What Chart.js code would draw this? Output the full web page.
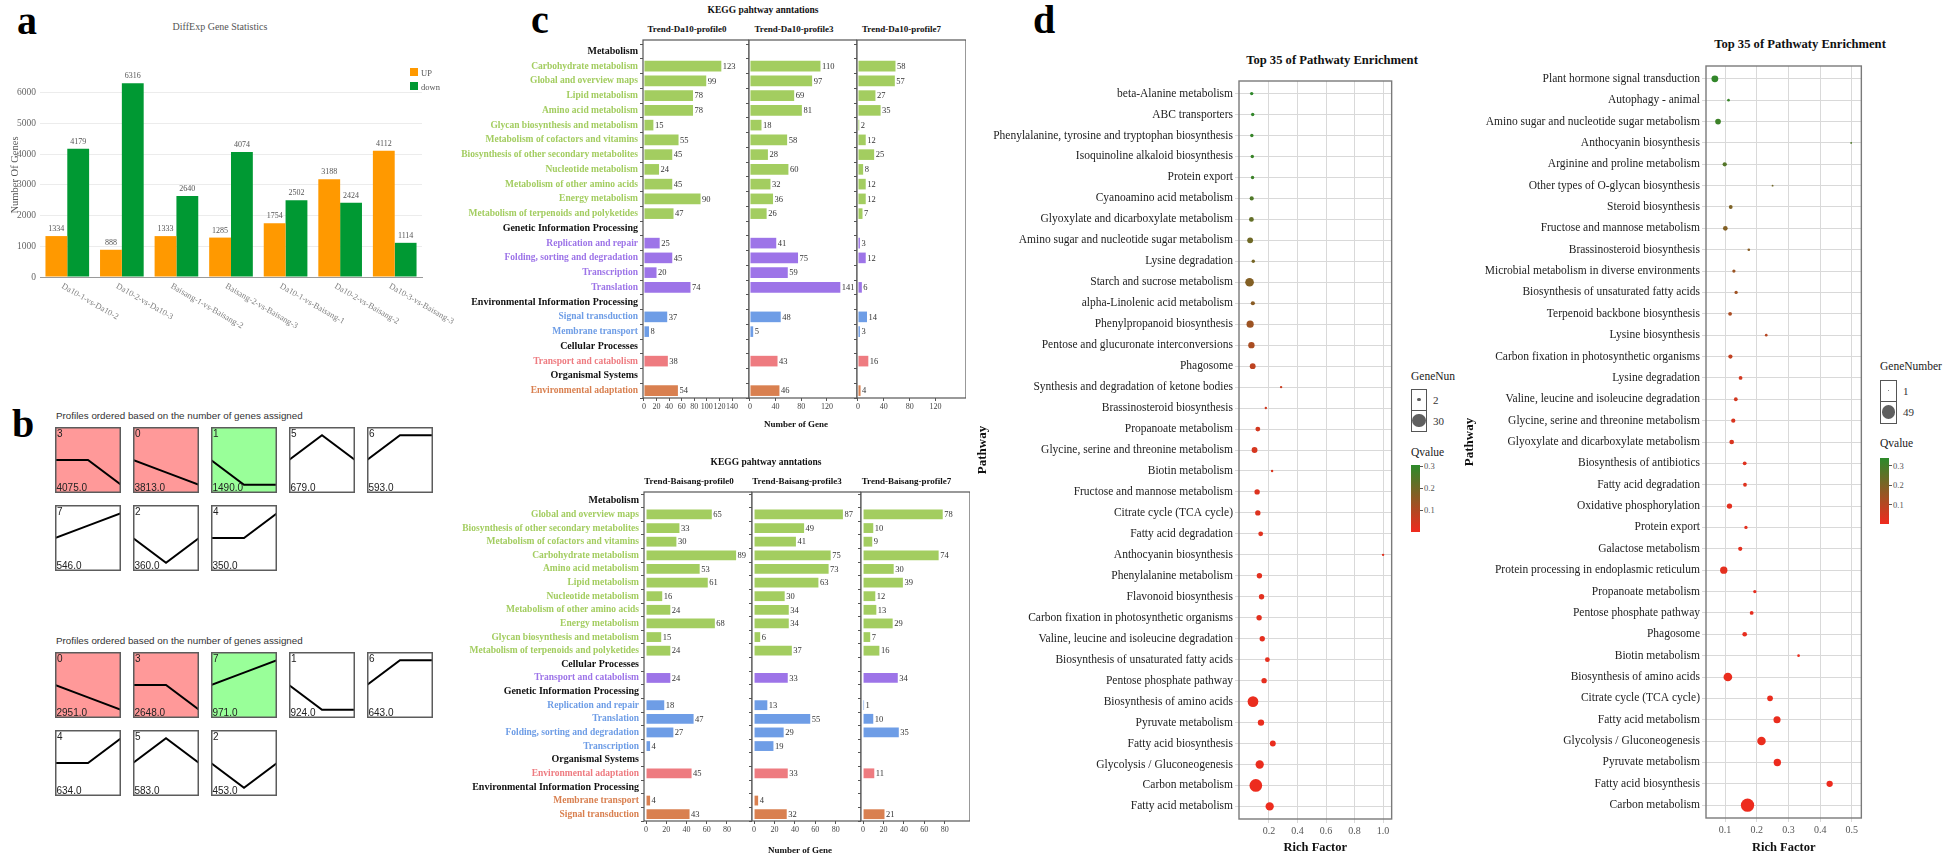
<!DOCTYPE html>
<html>
<head>
<meta charset="utf-8">
<title>DEG statistics, trend profiles, KEGG annotation and enrichment</title>
<script src="https://cdn.jsdelivr.net/npm/chart.js@4/dist/chart.umd.min.js"></script>
<style>
  html, body { margin: 0; padding: 0; background: #fff; }
  #page { position: relative; width: 1946px; height: 861px; overflow: hidden; background: #fff; }
  #page canvas { position: absolute; }
  .txt { position: absolute; white-space: nowrap; }
  .blk { position: absolute; }
  .cell { position: absolute; box-sizing: border-box; border: 1px solid #555; background: #fff; }
  .dot { position: absolute; border-radius: 50%; background: #5f5f5f; }
</style>
</head>
<body>
<div id="page"></div>
<script>
// ---------- panel a : number of DEGs per comparison
var diffCompare = ['Da10-1-vs-Da10-2', 'Da10-2-vs-Da10-3', 'Baisang-1-vs-Baisang-2', 'Baisang-2-vs-Baisang-3',
  'Da10-1-vs-Baisang-1', 'Da10-2-vs-Baisang-2', 'Da10-3-vs-Baisang-3'];
var diffUp = [1334, 888, 1333, 1285, 1754, 3188, 4112];
var diffDown = [4179, 6316, 2640, 4074, 2502, 2424, 1114];
var diffYTicks = [0, 1000, 2000, 3000, 4000, 5000, 6000];

// ---------- panel b : STEM model profiles (3 time points)
var stemProfiles = [[0, -1, -2], [0, -1, -1], [0, -1, 0], [0, 0, -1], [0, 0, 1], [0, 1, 0], [0, 1, 1], [0, 1, 2]];
var da10Order = [3, 0, 1, 5, 6, 7, 2, 4];
var da10Genes = [4075, 3813, 1490, 679, 593, 546, 360, 350];
var da10Tint = ['red', 'red', 'green', null, null, null, null, null];
var baisangOrder = [0, 3, 7, 1, 6, 4, 5, 2];
var baisangGenes = [2951, 2648, 971, 924, 643, 634, 583, 453];
var baisangTint = ['red', 'red', 'green', null, null, null, null, null];

// ---------- panel c : KEGG annotation of trend profiles
var keggTopLabels = ['Metabolism', 'Carbohydrate metabolism', 'Global and overview maps', 'Lipid metabolism',
  'Amino acid metabolism', 'Glycan biosynthesis and metabolism', 'Metabolism of cofactors and vitamins',
  'Biosynthesis of other secondary metabolites', 'Nucleotide metabolism', 'Metabolism of other amino acids',
  'Energy metabolism', 'Metabolism of terpenoids and polyketides', 'Genetic Information Processing',
  'Replication and repair', 'Folding, sorting and degradation', 'Transcription', 'Translation',
  'Environmental Information Processing', 'Signal transduction', 'Membrane transport', 'Cellular Processes',
  'Transport and catabolism', 'Organismal Systems', 'Environmental adaptation'];
var keggTopGroup = [-1, 0, 0, 0, 0, 0, 0, 0, 0, 0, 0, 0, -1, 1, 1, 1, 1, -1, 2, 2, -1, 3, -1, 4];
var da10P0 = [null, 123, 99, 78, 78, 15, 55, 45, 24, 45, 90, 47, null, 25, 45, 20, 74, null, 37, 8, null, 38, null, 54];
var da10P3 = [null, 110, 97, 69, 81, 18, 58, 28, 60, 32, 36, 26, null, 41, 75, 59, 141, null, 48, 5, null, 43, null, 46];
var da10P7 = [null, 58, 57, 27, 35, 2, 12, 25, 8, 12, 12, 7, null, 3, 12, null, 6, null, 14, 3, null, 16, null, 4];
var keggTopXTicks = [0, 20, 40, 60, 80, 100, 120, 140];

var keggBotLabels = ['Metabolism', 'Global and overview maps', 'Biosynthesis of other secondary metabolites',
  'Metabolism of cofactors and vitamins', 'Carbohydrate metabolism', 'Amino acid metabolism', 'Lipid metabolism',
  'Nucleotide metabolism', 'Metabolism of other amino acids', 'Energy metabolism', 'Glycan biosynthesis and metabolism',
  'Metabolism of terpenoids and polyketides', 'Cellular Processes', 'Transport and catabolism',
  'Genetic Information Processing', 'Replication and repair', 'Translation', 'Folding, sorting and degradation',
  'Transcription', 'Organismal Systems', 'Environmental adaptation', 'Environmental Information Processing',
  'Membrane transport', 'Signal transduction'];
var keggBotGroup = [-1, 0, 0, 0, 0, 0, 0, 0, 0, 0, 0, 0, -1, 1, -1, 2, 2, 2, 2, -1, 3, -1, 4, 4];
var baiP0 = [null, 65, 33, 30, 89, 53, 61, 16, 24, 68, 15, 24, null, 24, null, 18, 47, 27, 4, null, 45, null, 4, 43];
var baiP3 = [null, 87, 49, 41, 75, 73, 63, 30, 34, 34, 6, 37, null, 33, null, 13, 55, 29, 19, null, 33, null, 4, 32];
var baiP7 = [null, 78, 10, 9, 74, 30, 39, 12, 13, 29, 7, 16, null, 34, null, 1, 10, 35, null, null, 11, null, null, 21];
var keggBotXTicks = [0, 20, 40, 60, 80];
var keggPalette = ['#a3cd60', '#9d74e8', '#6e9de6', '#ee7b80', '#d98050'];

// ---------- panel d : top 35 enriched pathways
var enrLeftNames = ['beta-Alanine metabolism', 'ABC transporters', 'Phenylalanine, tyrosine and tryptophan biosynthesis',
  'Isoquinoline alkaloid biosynthesis', 'Protein export', 'Cyanoamino acid metabolism',
  'Glyoxylate and dicarboxylate metabolism', 'Amino sugar and nucleotide sugar metabolism', 'Lysine degradation',
  'Starch and sucrose metabolism', 'alpha-Linolenic acid metabolism', 'Phenylpropanoid biosynthesis',
  'Pentose and glucuronate interconversions', 'Phagosome', 'Synthesis and degradation of ketone bodies',
  'Brassinosteroid biosynthesis', 'Propanoate metabolism', 'Glycine, serine and threonine metabolism',
  'Biotin metabolism', 'Fructose and mannose metabolism', 'Citrate cycle (TCA cycle)', 'Fatty acid degradation',
  'Anthocyanin biosynthesis', 'Phenylalanine metabolism', 'Flavonoid biosynthesis',
  'Carbon fixation in photosynthetic organisms', 'Valine, leucine and isoleucine degradation',
  'Biosynthesis of unsaturated fatty acids', 'Pentose phosphate pathway', 'Biosynthesis of amino acids',
  'Pyruvate metabolism', 'Fatty acid biosynthesis', 'Glycolysis / Gluconeogenesis', 'Carbon metabolism',
  'Fatty acid metabolism'];
var enrLeftRich = [0.079, 0.086, 0.080, 0.083, 0.085, 0.079, 0.077, 0.068, 0.090, 0.064, 0.087, 0.068, 0.077, 0.086,
  0.285, 0.178, 0.122, 0.099, 0.222, 0.117, 0.122, 0.142, 1.0, 0.133, 0.148, 0.131, 0.153, 0.189, 0.166, 0.088,
  0.144, 0.227, 0.135, 0.108, 0.205];
var enrLeftGenes = [2, 2, 2, 2, 2, 3, 4, 6, 2, 13, 3, 9, 7, 6, 1, 1, 4, 6, 1, 5, 5, 4, 1, 5, 5, 5, 5, 4, 5, 20, 7, 6, 12, 28, 12];
var enrLeftQ = [0.30, 0.295, 0.29, 0.285, 0.28, 0.25, 0.22, 0.20, 0.19, 0.17, 0.16, 0.13, 0.11, 0.08, 0.06, 0.05,
  0.045, 0.04, 0.035, 0.03, 0.03, 0.025, 0.025, 0.02, 0.02, 0.02, 0.015, 0.015, 0.015, 0.01, 0.01, 0.01, 0.01, 0.005, 0.005];
var enrLeftXTicks = [0.2, 0.4, 0.6, 0.8, 1.0];
var enrLeftLegend = [2, 30];

var enrRightNames = ['Plant hormone signal transduction', 'Autophagy - animal', 'Amino sugar and nucleotide sugar metabolism',
  'Anthocyanin biosynthesis', 'Arginine and proline metabolism', 'Other types of O-glycan biosynthesis',
  'Steroid biosynthesis', 'Fructose and mannose metabolism', 'Brassinosteroid biosynthesis',
  'Microbial metabolism in diverse environments', 'Biosynthesis of unsaturated fatty acids',
  'Terpenoid backbone biosynthesis', 'Lysine biosynthesis', 'Carbon fixation in photosynthetic organisms',
  'Lysine degradation', 'Valine, leucine and isoleucine degradation', 'Glycine, serine and threonine metabolism',
  'Glyoxylate and dicarboxylate metabolism', 'Biosynthesis of antibiotics', 'Fatty acid degradation',
  'Oxidative phosphorylation', 'Protein export', 'Galactose metabolism', 'Protein processing in endoplasmic reticulum',
  'Propanoate metabolism', 'Pentose phosphate pathway', 'Phagosome', 'Biotin metabolism', 'Biosynthesis of amino acids',
  'Citrate cycle (TCA cycle)', 'Fatty acid metabolism', 'Glycolysis / Gluconeogenesis', 'Pyruvate metabolism',
  'Fatty acid biosynthesis', 'Carbon metabolism'];
var enrRightRich = [0.068, 0.111, 0.078, 0.498, 0.099, 0.250, 0.118, 0.101, 0.175, 0.128, 0.135, 0.116, 0.230, 0.117,
  0.149, 0.134, 0.126, 0.121, 0.162, 0.163, 0.114, 0.166, 0.148, 0.096, 0.194, 0.184, 0.162, 0.332, 0.109, 0.242,
  0.264, 0.215, 0.265, 0.430, 0.171];
var enrRightGenes = [13, 2, 9, 1, 5, 1, 4, 6, 2, 3, 3, 4, 2, 5, 4, 4, 5, 6, 4, 4, 8, 3, 5, 15, 3, 4, 6, 2, 21, 9, 14, 20, 15, 11, 49];
var enrRightQ = [0.33, 0.32, 0.31, 0.28, 0.27, 0.22, 0.20, 0.19, 0.18, 0.15, 0.14, 0.12, 0.10, 0.08, 0.05, 0.05,
  0.04, 0.04, 0.03, 0.03, 0.02, 0.02, 0.02, 0.02, 0.015, 0.015, 0.015, 0.01, 0.01, 0.01, 0.01, 0.01, 0.005, 0.005, 0.005];
var enrRightXTicks = [0.1, 0.2, 0.3, 0.4, 0.5];
var enrRightLegend = [1, 49];
var qTicks = [0.3, 0.2, 0.1];

var serif = "'Liberation Serif', 'Times New Roman', serif";
var sans = "'Liberation Sans', Arial, sans-serif";
Chart.defaults.font.family = serif;
var page = document.getElementById('page');

//Put a text node on the page, y is the vertical centre of the line
var addText = function(text, x, y, font, color, align) {
  var d = document.createElement('div');
  d.className = 'txt';
  d.textContent = text;
  d.style.font = font;
  d.style.lineHeight = '1';
  d.style.color = color || '#000';
  d.style.left = x + 'px';
  d.style.top = y + 'px';
  var tx = align === 'center' ? '-50%' : (align === 'right' ? '-100%' : '0');
  d.style.transform = 'translate(' + tx + ', -50%)';
  page.appendChild(d);
  return d;
}

var addBox = function(cls, x, y, w, h) {
  var d = document.createElement('div');
  d.className = cls || 'blk';
  d.style.left = x + 'px';
  d.style.top = y + 'px';
  d.style.width = w + 'px';
  d.style.height = h + 'px';
  page.appendChild(d);
  return d;
}

var addCanvas = function(x, y, w, h) {
  var c = document.createElement('canvas');
  c.width = w;
  c.height = h;
  c.style.left = x + 'px';
  c.style.top = y + 'px';
  c.style.width = w + 'px';
  c.style.height = h + 'px';
  page.appendChild(c);
  return c;
}

//Plugins: panel frame, panel fill, bar value labels, slanted category labels
var framePlugin = {
  id: 'frame',
  afterDraw: function(chart, args, o) {
    if (!o.color) return;
    var a = chart.chartArea, ctx = chart.ctx, k = o.inset || 0, t = o.extendTop || 0;
    ctx.save();
    ctx.strokeStyle = o.color;
    ctx.lineWidth = o.width || 1;
    ctx.strokeRect(a.left + k, a.top - t + k, a.right - a.left - 2 * k, a.bottom - a.top + t - 2 * k);
    ctx.restore();
  }
};
var fillPlugin = {
  id: 'boxFill',
  beforeDraw: function(chart, args, o) {
    if (!o.color) return;
    var a = chart.chartArea;
    chart.ctx.save();
    chart.ctx.fillStyle = o.color;
    chart.ctx.fillRect(a.left, a.top, a.right - a.left, a.bottom - a.top);
    chart.ctx.restore();
  }
};
var valueLabels = {
  id: 'valueLabels',
  afterDatasetsDraw: function(chart, args, o) {
    if (!o.font) return;
    var ctx = chart.ctx;
    var horizontal = chart.options.indexAxis === 'y';
    ctx.save();
    ctx.font = o.font;
    ctx.fillStyle = o.color;
    chart.data.datasets.forEach(function(ds, di) {
      chart.getDatasetMeta(di).data.forEach(function(bar, i) {
        var v = ds.data[i];
        if (v === null || v === undefined) return;
        if (horizontal) {
          ctx.textAlign = 'left';
          ctx.textBaseline = 'middle';
          ctx.fillText(v, bar.x + 1.5, bar.y + 0.5);
        } else {
          ctx.textAlign = 'center';
          ctx.textBaseline = 'bottom';
          ctx.fillText(v, bar.x, bar.y - 3);
        }
      });
    });
    ctx.restore();
  }
};
var slantLabels = {
  id: 'slantLabels',
  afterDraw: function(chart, args, o) {
    if (!o.font) return;
    var xs = chart.scales.x, ctx = chart.ctx;
    ctx.save();
    ctx.font = o.font;
    ctx.fillStyle = o.color;
    ctx.textAlign = 'left';
    ctx.textBaseline = 'top';
    chart.data.labels.forEach(function(lab, i) {
      ctx.save();
      ctx.translate(xs.getPixelForTick(i) + o.dx, xs.top + o.dy);
      ctx.rotate(o.angle * Math.PI / 180);
      ctx.fillText(lab, 0, 0);
      ctx.restore();
    });
    ctx.restore();
  }
};
Chart.register(framePlugin, fillPlugin, valueLabels, slantLabels);

var qLow = [240, 42, 30], qHigh = [44, 138, 42];
var qColor = function(q, qMax) {
  var t = Math.min(q / qMax, 1);
  return 'rgb(' + qLow.map(function(c, k) { return Math.round(c + (qHigh[k] - c) * t); }).join(',') + ')';
}

// panel tags
addText('a', 17, 20.5, 'bold 40px ' + serif, '#000', 'left');
addText('b', 12, 423.5, 'bold 40px ' + serif, '#000', 'left');
addText('c', 531, 19.5, 'bold 40px ' + serif, '#000', 'left');
addText('d', 1033, 19.5, 'bold 40px ' + serif, '#000', 'left');

// ================= panel a
addText('DiffExp Gene Statistics', 220, 27, '10px ' + serif, '#555', 'center');
new Chart(addCanvas(0, 0, 470, 330), {
  type: 'bar',
  data: {
    labels: diffCompare,
    datasets: [
      {label: 'UP', data: diffUp, backgroundColor: '#ff9900', categoryPercentage: 0.8, barPercentage: 1},
      {label: 'down', data: diffDown, backgroundColor: '#009933', categoryPercentage: 0.8, barPercentage: 1}
    ]
  },
  options: {
    responsive: false,
    animation: false,
    layout: {padding: {top: 73, right: 48, left: 0, bottom: 0}},
    plugins: {
      legend: {display: false},
      tooltip: {enabled: false},
      valueLabels: {font: '8px ' + serif, color: '#555'},
      slantLabels: {font: '8.5px ' + serif, color: '#808080', angle: 30, dx: -3, dy: 5}
    },
    scales: {
      x: {
        grid: {display: false},
        border: {color: '#9a9a9a'},
        ticks: {display: false},
        afterFit: function(s) { s.height = 53; }
      },
      y: {
        min: 0,
        max: 6650,
        afterBuildTicks: function(s) { s.ticks = diffYTicks.map(function(v) { return {value: v}; }); },
        grid: {color: '#ececec', drawTicks: false},
        border: {display: false},
        ticks: {padding: 4, color: '#666', font: {size: 9.5}, callback: function(v) { return String(v); }},
        title: {display: true, text: 'Number Of Genes', color: '#555', font: {size: 10.5}, padding: {top: 9, bottom: 0}},
        afterFit: function(s) { s.width = 40; }
      }
    }
  }
});
addBox('', 410, 68, 8, 8).style.background = '#ff9900';
addBox('', 410, 82, 8, 8).style.background = '#009933';
addText('UP', 421, 72.5, '8.5px ' + serif, '#555', 'left');
addText('down', 421, 86.5, '8.5px ' + serif, '#555', 'left');

// ================= panel b
var boxCols = [55, 133, 211, 289, 367];
var tintColor = {red: '#ff9999', green: '#99ff99'};

var drawProfileBox = function(x, y, pid, genes, tint) {
  var shape = stemProfiles[pid];
  var lim = Math.max.apply(null, shape.map(Math.abs)) * 1.33;
  new Chart(addCanvas(x, y, 66, 66), {
    type: 'line',
    data: {labels: ['t0', 't1', 't2'], datasets: [{data: shape, borderColor: '#000', borderWidth: 2, pointRadius: 0, tension: 0}]},
    options: {
      responsive: false,
      animation: false,
      layout: {padding: 0},
      plugins: {
        legend: {display: false},
        tooltip: {enabled: false},
        boxFill: {color: tint ? tintColor[tint] : '#fff'},
        frame: {color: '#5c5c5c', width: 1.5, inset: 0.75}
      },
      scales: {x: {display: false, offset: false}, y: {display: false, min: -lim, max: lim}}
    }
  });
  addText(String(pid), x + 2, y + 6.5, '10px ' + sans, '#222', 'left');
  addText(genes.toFixed(1), x + 1.5, y + 60.5, '10px ' + sans, '#222', 'left');
}

var drawProfileGroup = function(top, order, genes, tint) {
  addText('Profiles ordered based on the number of genes assigned', 56, top - 11, '9.8px ' + sans, '#333', 'left');
  order.forEach(function(pid, i) {
    var col = i < 5 ? i : i - 5;
    drawProfileBox(boxCols[col], i < 5 ? top : top + 78, pid, genes[i], tint[i]);
  });
}
drawProfileGroup(427, da10Order, da10Genes, da10Tint);
drawProfileGroup(652, baisangOrder, baisangGenes, baisangTint);

// ================= panel c
var drawKeggFacet = function(f) {
  var tickColor = function(c) { var g = f.groups[c.index]; return g < 0 ? '#111' : keggPalette[g]; };
  var tickFont = function(c) { return {size: f.groups[c.index] < 0 ? 10 : 9.5, weight: 'bold'}; };
  new Chart(addCanvas(f.left, f.top, f.right - f.left, f.height), {
    type: 'bar',
    data: {
      labels: f.labels,
      datasets: [{
        data: f.values,
        backgroundColor: f.groups.map(function(g) { return g < 0 ? 'rgba(0,0,0,0)' : keggPalette[g]; }),
        categoryPercentage: 0.72,
        barPercentage: 1
      }]
    },
    options: {
      indexAxis: 'y',
      responsive: false,
      animation: false,
      layout: {padding: {top: f.plotTop - f.top, right: 0, left: 0, bottom: 0}},
      plugins: {
        legend: {display: false},
        tooltip: {enabled: false},
        valueLabels: {font: '8.5px ' + serif, color: '#333'},
        frame: {color: '#555', width: 1.2, extendTop: f.extendTop}
      },
      scales: {
        x: {
          min: f.xMin,
          max: f.xMax,
          afterBuildTicks: function(s) { s.ticks = f.xTicks.map(function(v) { return {value: v}; }); },
          grid: {drawOnChartArea: false, tickLength: 3, color: '#555'},
          border: {display: false},
          ticks: {font: {size: 8}, color: '#444', padding: 1, maxRotation: 0},
          afterFit: function(s) { s.height = f.top + f.height - f.plotBottom; }
        },
        y: {
          grid: {drawOnChartArea: false, tickLength: 3, color: '#555'},
          border: {display: false},
          ticks: {display: f.names, autoSkip: false, padding: 2, color: tickColor, font: tickFont},
          afterFit: function(s) { s.width = f.plotLeft - f.left; }
        }
      }
    }
  });
}

addText('KEGG pahtway anntations', 763, 11, 'bold 9.5px ' + serif, '#111', 'center');
addText('Trend-Da10-profile0', 687, 29, 'bold 9px ' + serif, '#111', 'center');
addText('Trend-Da10-profile3', 794, 29, 'bold 9px ' + serif, '#111', 'center');
addText('Trend-Da10-profile7', 901.5, 29, 'bold 9px ' + serif, '#111', 'center');
var topFacetEdges = [643, 749, 857, 964];
[da10P0, da10P3, da10P7].forEach(function(vals, k) {
  drawKeggFacet({
    left: k === 0 ? 430 : topFacetEdges[k] - 6, right: topFacetEdges[k + 1] + (k === 2 ? 2 : 0),
    plotLeft: topFacetEdges[k], top: 0, height: 420, plotTop: 44, plotBottom: 398, extendTop: 4,
    labels: keggTopLabels, groups: keggTopGroup, values: vals,
    xMin: -1.5, xMax: 167, xTicks: keggTopXTicks, names: k === 0
  });
});
addText('Number of Gene', 796, 424, 'bold 9px ' + serif, '#111', 'center');

addText('KEGG pahtway anntations', 766, 463, 'bold 9.5px ' + serif, '#111', 'center');
addText('Trend-Baisang-profile0', 689, 481, 'bold 9px ' + serif, '#111', 'center');
addText('Trend-Baisang-profile3', 797, 481, 'bold 9px ' + serif, '#111', 'center');
addText('Trend-Baisang-profile7', 906.5, 481, 'bold 9px ' + serif, '#111', 'center');
var botFacetEdges = [644, 752, 861, 968];
[baiP0, baiP3, baiP7].forEach(function(vals, k) {
  drawKeggFacet({
    left: k === 0 ? 430 : botFacetEdges[k] - 6, right: botFacetEdges[k + 1] + (k === 2 ? 2 : 0),
    plotLeft: botFacetEdges[k], top: 470, height: 370, plotTop: 494, plotBottom: 821, extendTop: 2,
    labels: keggBotLabels, groups: keggBotGroup, values: vals,
    xMin: -2, xMax: 104.7, xTicks: keggBotXTicks, names: k === 0
  });
});
addText('Number of Gene', 800, 850, 'bold 9px ' + serif, '#111', 'center');

// ================= panel d
var drawEnrichment = function(e) {
  var pts = e.names.map(function(n, i) { return {x: e.rich[i], y: i, r: e.radius * Math.sqrt(e.genes[i])}; });
  new Chart(addCanvas(e.left, e.top, e.right - e.left, e.height), {
    type: 'bubble',
    data: {datasets: [{data: pts, backgroundColor: e.q.map(function(q) { return qColor(q, e.qMax); }), borderWidth: 0}]},
    options: {
      responsive: false,
      animation: false,
      layout: {padding: {top: e.plotTop - e.top, left: 0, right: 0, bottom: 0}},
      plugins: {legend: {display: false}, tooltip: {enabled: false}, frame: {color: '#7a7a7a', width: 1.4}},
      scales: {
        x: {
          type: 'linear',
          min: e.xMin,
          max: e.xMax,
          afterBuildTicks: function(s) { s.ticks = e.xTicks.map(function(v) { return {value: v}; }); },
          grid: {color: '#d9d9d9', tickLength: 4},
          border: {display: false},
          ticks: {font: {size: 10}, color: '#555', padding: 2, maxRotation: 0, callback: function(v) { return v.toFixed(1); }},
          title: {display: true, text: 'Rich Factor', color: '#111', font: {size: 12.5, weight: 'bold'}, padding: {top: 0, bottom: 6}},
          afterFit: function(s) { s.height = e.top + e.height - e.plotBottom; }
        },
        y: {
          type: 'linear',
          reverse: true,
          min: -0.6,
          max: e.names.length - 0.4,
          afterBuildTicks: function(s) { s.ticks = e.names.map(function(n, i) { return {value: i}; }); },
          grid: {color: '#d9d9d9', tickLength: 4},
          border: {display: false},
          ticks: {autoSkip: false, font: {size: 11.5}, color: '#222', padding: 2, callback: function(v) { return e.names[v]; }},
          title: {display: true, text: 'Pathway', color: '#111', font: {size: 13, weight: 'bold'}, padding: {top: 5, bottom: 0}},
          afterFit: function(s) { s.width = e.plotLeft - e.left; }
        }
      }
    }
  });
}

//size + colour legend of an enrichment panel
var drawEnrichLegend = function(g) {
  addText(g.sizeTitle, g.x, g.titleY, '11.5px ' + serif, '#222', 'left');
  var cellH = [g.cellTop, g.cellMid, g.cellBottom];
  g.sizes.forEach(function(n, i) {
    addBox('cell', g.x, cellH[i], g.cellW, cellH[i + 1] - cellH[i] + 1);
    var r = g.radius * Math.sqrt(n);
    var cy = (cellH[i] + cellH[i + 1]) / 2;
    addBox('dot', g.x + g.cellW / 2 - r, cy - r, 2 * r, 2 * r);
    addText(String(n), g.x + g.cellW + 6, cy, '11px ' + serif, '#333', 'left');
  });
  addText('Qvalue', g.x, g.qTitleY, '11.5px ' + serif, '#222', 'left');
  var bar = addBox('', g.x, g.barTop, 9, g.barBottom - g.barTop);
  bar.style.background = 'linear-gradient(to bottom, ' + qColor(g.qMax, g.qMax) + ', ' + qColor(0, g.qMax) + ')';
  qTicks.forEach(function(v) {
    var y = g.barBottom - v / g.qMax * (g.barBottom - g.barTop);
    var t = addBox('', g.x + 9, y - 0.5, 3, 1);
    t.style.background = '#555';
    addText(v.toFixed(1), g.x + 13, y, '8.5px ' + serif, '#555', 'left');
  });
}

addText('Top 35 of Pathwaty Enrichment', 1332, 60, 'bold 12.6px ' + serif, '#111', 'center');
drawEnrichment({
  left: 970, right: 1398, top: 70, height: 791, plotLeft: 1239, plotTop: 81, plotBottom: 819,
  names: enrLeftNames, rich: enrLeftRich, genes: enrLeftGenes, q: enrLeftQ, qMax: 0.305,
  xMin: -0.01, xMax: 1.06, xTicks: enrLeftXTicks, radius: 1.2
});
drawEnrichLegend({
  x: 1411, titleY: 377, sizeTitle: 'GeneNun', sizes: enrLeftLegend, radius: 1.2,
  cellW: 16, cellTop: 389, cellMid: 410, cellBottom: 431,
  qTitleY: 453, barTop: 465, barBottom: 532, qMax: 0.305
});

addText('Top 35 of Pathwaty Enrichment', 1800, 44, 'bold 12.6px ' + serif, '#111', 'center');
drawEnrichment({
  left: 1457, right: 1868, top: 55, height: 806, plotLeft: 1706, plotTop: 66, plotBottom: 818,
  names: enrRightNames, rich: enrRightRich, genes: enrRightGenes, q: enrRightQ, qMax: 0.34,
  xMin: 0.04, xMax: 0.53, xTicks: enrRightXTicks, radius: 0.95
});
drawEnrichLegend({
  x: 1880, titleY: 367, sizeTitle: 'GeneNumber', sizes: enrRightLegend, radius: 0.95,
  cellW: 17, cellTop: 380, cellMid: 401, cellBottom: 423,
  qTitleY: 444, barTop: 458, barBottom: 524, qMax: 0.34
});
</script>
</body>
</html>
